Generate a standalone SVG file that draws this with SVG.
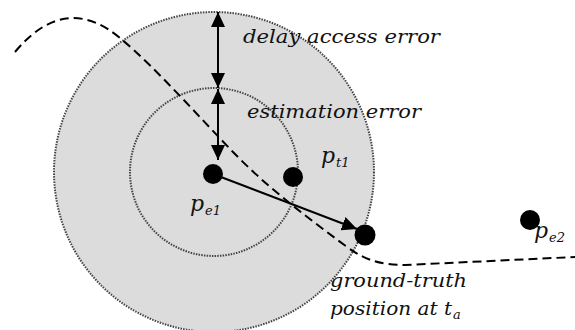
<svg xmlns="http://www.w3.org/2000/svg" width="575" height="330" viewBox="0 0 575 330">
  <style>
    .zone { fill: #dcdcdc; stroke: #444; stroke-width: 2; stroke-dasharray: 1.5 1.2; }
    .inner { fill: none; stroke: #444; stroke-width: 2; stroke-dasharray: 1.5 1.2; }
    .dot { fill: #000; }
    .lbl { font-family: "DejaVu Serif", "Liberation Serif", serif; font-style: italic; fill: #111; }
    .big { font-size: 19px; }
    .p { font-size: 22px; }
    .sub { font-size: 13px; }
    .arrow { stroke: #000; stroke-width: 2; fill: none; }
    .traj { stroke: #000; stroke-width: 2; fill: none; stroke-dasharray: 9 5; }
  </style>
  <defs>
    <marker id="ah" markerUnits="userSpaceOnUse" markerWidth="16" markerHeight="14" refX="15" refY="7" orient="auto-start-reverse">
      <path d="M0,0 L15,7 L0,14 Z" fill="#000"/>
    </marker>
  </defs>

  <g id="zones">
    <circle class="zone" cx="214" cy="172" r="160"/>
    <circle class="inner" cx="214" cy="172" r="84"/>
  </g>

  <g id="connectors">
    <path id="trajectory" class="traj" d="M15,52 Q65,-8 120,38 C155,67 200,118 233,152 S300,212 347,247 C365,260 380,265 405,265 L575,257"/>
    <line class="arrow" x1="218" y1="12" x2="218" y2="88" marker-start="url(#ah)" marker-end="url(#ah)"/>
    <line class="arrow" x1="218" y1="89" x2="218" y2="160" marker-start="url(#ah)" marker-end="url(#ah)"/>
    <line class="arrow" x1="213" y1="174" x2="357" y2="229" marker-end="url(#ah)"/>
  </g>

  <g id="pe1">
    <circle class="dot" cx="213" cy="174" r="10"/>
    <text class="lbl p" x="190" y="211">p<tspan class="sub" dx="1" dy="4">e1</tspan></text>
  </g>
  <g id="pt1">
    <circle class="dot" cx="293" cy="177" r="10"/>
    <text class="lbl p" x="321" y="163">p<tspan class="sub" dx="1" dy="4">t1</tspan></text>
  </g>
  <g id="gt">
    <circle class="dot" cx="365" cy="235" r="10.5"/>
    <text class="lbl big" x="330" y="287" textLength="137" lengthAdjust="spacingAndGlyphs">ground-truth</text>
    <text class="lbl big" x="330" y="315" textLength="122" lengthAdjust="spacingAndGlyphs">position at t</text>
    <text class="lbl sub" x="453" y="319">a</text>
  </g>
  <g id="pe2">
    <circle class="dot" cx="530" cy="220" r="10"/>
    <text class="lbl p" x="534" y="238">p<tspan class="sub" dx="1" dy="4">e2</tspan></text>
  </g>

  <g id="labels">
    <text class="lbl big" x="243" y="43" textLength="197" lengthAdjust="spacingAndGlyphs">delay access error</text>
    <text class="lbl big" x="247" y="118" textLength="174" lengthAdjust="spacingAndGlyphs">estimation error</text>
  </g>
</svg>
